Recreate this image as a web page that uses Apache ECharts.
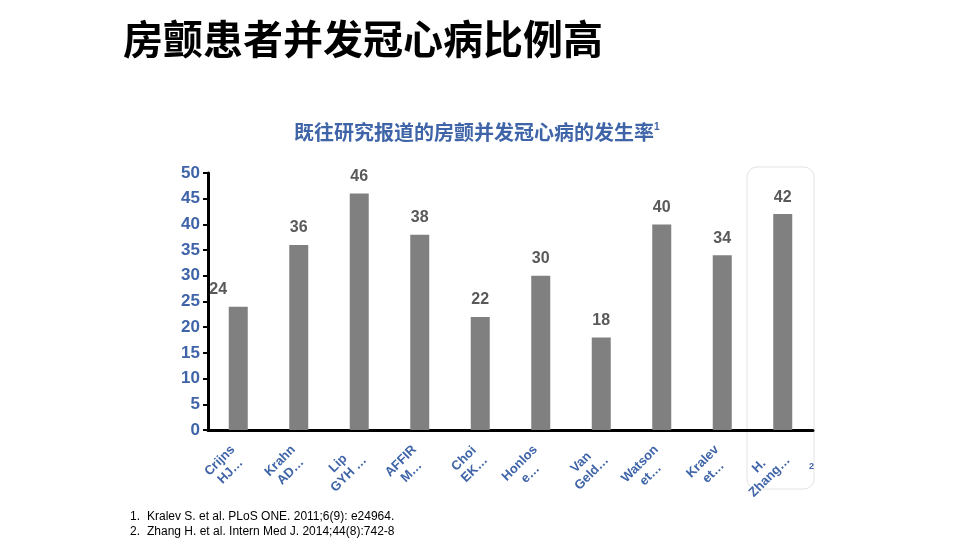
<!DOCTYPE html>
<html>
<head>
<meta charset="utf-8">
<style>
  html, body { margin: 0; padding: 0; background: #fff; }
  #main { width: 960px; height: 540px; }
</style>
<script src="https://cdn.jsdelivr.net/npm/echarts@6/dist/echarts.min.js"></script>
</head>
<body>
<div id="main"></div>
<script>
// 各研究名称（原图中已截断）
var studies = ['Crijns\nHJ…', 'Krahn\nAD…', 'Lip\nGYH …', 'AFFIR\nM…', 'Choi\nEK…',
  'Honlos\ne…', 'Van\nGeld…', 'Watson\net…', 'Kralev\net…', 'H.\nZhang…'];
// 冠心病发生率 (%)
var rates = [24, 36, 46, 38, 22, 30, 18, 40, 34, 42];
var yTicks = [0, 50, 5];
var refs = ['Kralev S. et al. PLoS ONE. 2011;6(9): e24964.',
  'Zhang H. et al. Intern Med J. 2014;44(8):742-8'];

var blue = '#3F64A8';
var cjk = '"Noto Sans CJK SC", "Liberation Sans", Arial, sans-serif';
var latin = '"Liberation Sans", Arial, sans-serif';

var myChart = echarts.init(document.getElementById('main'));

var barData = rates.map(function (v, i) {
  if (i === 0) {
    return { value: v, label: { offset: [-20, 0] } };
  }
  return v;
});

// 脚注
var footGraphics = [];
refs.forEach(function (r, i) {
  footGraphics.push({
    type: 'text', x: 130, y: 511 + i * 15,
    style: { text: (i + 1) + '.', fontFamily: latin, fontSize: 12, fill: '#000' }
  });
  footGraphics.push({
    type: 'text', x: 147, y: 511 + i * 15,
    style: { text: r, fontFamily: latin, fontSize: 12, fill: '#000' }
  });
});

var option = {
  backgroundColor: '#fff',
  animation: false,
  title: [
    {
      text: '房颤患者并发冠心病比例高',
      left: 118,
      top: 14,
      textStyle: { fontFamily: cjk, fontSize: 40, fontWeight: 'bold', color: '#000' }
    },
    {
      text: '{t|既往研究报道的房颤并发冠心病的发生率}{s|1}',
      left: 289,
      top: 117,
      textStyle: {
        rich: {
          t: { fontFamily: cjk, fontSize: 20, fontWeight: 'bold', color: blue },
          s: { fontFamily: latin, fontSize: 10, fontWeight: 'bold', color: blue, verticalAlign: 'top', padding: [0, 0, 8, 0] }
        }
      }
    }
  ],
  graphic: [
    {
      type: 'rect',
      shape: { x: 747, y: 167, width: 67, height: 322, r: 10 },
      style: { fill: 'none', stroke: '#e3e3e3', lineWidth: 1 },
      z: 0
    },
    {
      type: 'text',
      x: 809,
      y: 462,
      style: { text: '2', fontFamily: latin, fontSize: 9, fontWeight: 'bold', fill: blue }
    }
  ].concat(footGraphics),
  grid: { left: 208, right: 147, top: 173, bottom: 110, containLabel: false },
  xAxis: {
    type: 'category',
    data: studies,
    axisLine: { lineStyle: { color: '#000', width: 3 } },
    axisTick: { inside: true, length: 5, lineStyle: { color: '#000', width: 2 } },
    axisLabel: {
      interval: 0,
      rotate: 45,
      margin: 23,
      align: 'right',
      formatter: function (v) {
        return v.split('\n').map(function (s) { return '{c|' + s + '}'; }).join('\n');
      },
      rich: {
        c: { align: 'center', color: blue, fontFamily: latin, fontSize: 13, fontWeight: 'bold', lineHeight: 15 }
      }
    },
    splitLine: { show: false }
  },
  yAxis: {
    type: 'value',
    min: yTicks[0],
    max: yTicks[1],
    interval: yTicks[2],
    axisLine: { show: true, lineStyle: { color: '#000', width: 3 } },
    axisTick: { show: true, length: 5, lineStyle: { color: '#000', width: 2 } },
    axisLabel: { color: blue, fontFamily: latin, fontSize: 17, fontWeight: 'bold', margin: 8 },
    splitLine: { show: false }
  },
  series: [
    {
      type: 'bar',
      data: barData,
      barWidth: 19,
      itemStyle: { color: '#808080' },
      label: {
        show: true,
        position: 'top',
        distance: 9,
        color: '#595959',
        fontFamily: latin,
        fontSize: 16,
        fontWeight: 'bold'
      }
    }
  ]
};

myChart.setOption(option);
window.onresize = myChart.resize;
</script>
</body>
</html>
